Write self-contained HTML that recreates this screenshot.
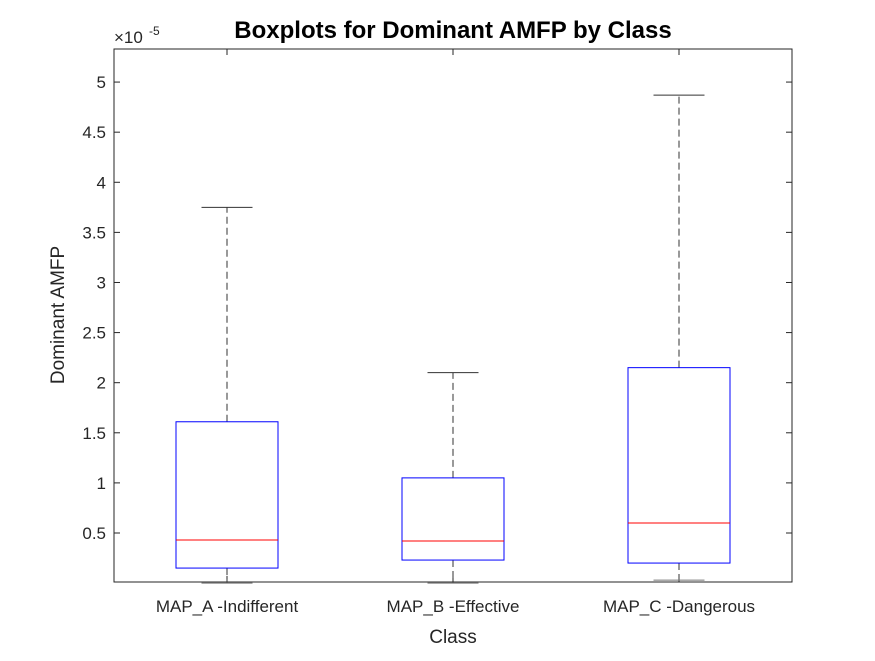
<!DOCTYPE html>
<html><head><meta charset="utf-8"><style>
body{margin:0;background:#fff;font-family:"Liberation Sans",sans-serif}
</style></head><body>
<svg width="875" height="656" xmlns="http://www.w3.org/2000/svg" font-family="Liberation Sans, sans-serif">
<rect width="875" height="656" fill="#fff"/>
<g id="plot"></g>
</svg>
<script>
const categories=["MAP_A -Indifferent","MAP_B -Effective","MAP_C -Dangerous"];
const lowerWhisker=[0.0,0.0,0.03];
const q1=[0.15,0.23,0.2];
const median=[0.43,0.42,0.6];
const q3=[1.61,1.05,2.15];
const upperWhisker=[3.75,2.10,4.87];
const yTicks=[0.5,1,1.5,2,2.5,3,3.5,4,4.5,5];
const yTickLabels=["0.5","1","1.5","2","2.5","3","3.5","4","4.5","5"];
const L=114,R=792,T=49,B=582,ymin=0.011,ymax=5.33;
const ys=v=>B-(v-ymin)/(ymax-ymin)*(B-T);
const xs=i=>L+(i+0.5)*(R-L)/categories.length;
const g=document.getElementById('plot');
const NS="http://www.w3.org/2000/svg";
function mk(tag,attrs,text){const e=document.createElementNS(NS,tag);for(const k in attrs)e.setAttribute(k,attrs[k]);if(text!==undefined)e.textContent=text;g.appendChild(e);return e;}
let e;
e=mk('rect',{x:L,y:T,width:R-L,height:B-T,fill:'#fff',stroke:'#262626','stroke-width':1});


yTicks.forEach((v,i)=>{
  const y=ys(v);
  e=mk('line',{x1:L,x2:L+6,y1:y,y2:y,stroke:'#262626'});
  
  
  e=mk('line',{x1:R,x2:R-6,y1:y,y2:y,stroke:'#262626'});
  
  
  e=mk('text',{x:L-8,y:y+6,'text-anchor':'end','font-size':17,fill:'#262626'},yTickLabels[i]);
  
  
});
const bw=102,cw=51;
categories.forEach((c,i)=>{
  const x=xs(i);
  e=mk('line',{x1:x,x2:x,y1:B,y2:B-6,stroke:'#262626'});
  
  
  e=mk('line',{x1:x,x2:x,y1:T,y2:T+6,stroke:'#262626'});
  
  
  e=mk('line',{x1:x,x2:x,y1:ys(q3[i]),y2:ys(upperWhisker[i]),stroke:'#333','stroke-dasharray':'7,4'});
  
  
  e=mk('line',{x1:x,x2:x,y1:ys(q1[i]),y2:ys(lowerWhisker[i]),stroke:'#333','stroke-dasharray':'7,4'});
  
  
  e=mk('line',{x1:x-cw/2,x2:x+cw/2,y1:ys(upperWhisker[i]),y2:ys(upperWhisker[i]),stroke:'#333'});
  
  
  e=mk('line',{x1:x-cw/2,x2:x+cw/2,y1:ys(lowerWhisker[i]),y2:ys(lowerWhisker[i]),stroke:'#777'});
  
  
  e=mk('rect',{x:x-bw/2,y:ys(q3[i]),width:bw,height:ys(q1[i])-ys(q3[i]),fill:'none',stroke:'#0000ff'});
  
  
  e=mk('line',{x1:x-bw/2,x2:x+bw/2,y1:ys(median[i]),y2:ys(median[i]),stroke:'#ff0000'});
  
  
  e=mk('text',{x:x,y:612,'text-anchor':'middle','font-size':17,fill:'#262626'},c);
  
  
});
e=mk('text',{x:453,y:643,'text-anchor':'middle','font-size':19,fill:'#262626'},'Class');


e=mk('text',{x:0,y:0,'text-anchor':'middle','font-size':19,fill:'#262626',transform:'translate(64,315) rotate(-90)'},'Dominant AMFP');


e=mk('text',{x:453,y:38,'text-anchor':'middle','font-size':24,'font-weight':'bold',fill:'#000'},'Boxplots for Dominant AMFP by Class');


e=mk('text',{x:114,y:43,'font-size':17,fill:'#262626'},'×10');


e=mk('text',{x:149,y:35,'font-size':12,fill:'#262626'},'-5');


</script>
</body></html>
